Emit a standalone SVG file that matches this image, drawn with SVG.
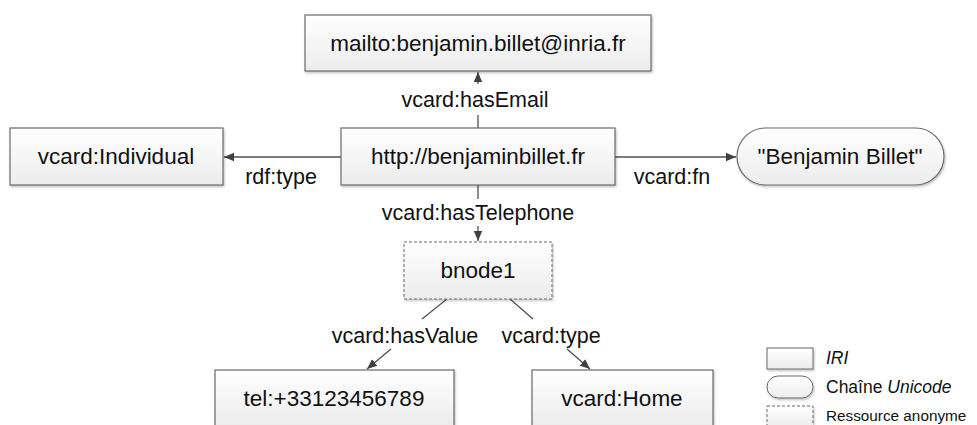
<svg xmlns="http://www.w3.org/2000/svg" width="977" height="425" viewBox="0 0 977 425">
<defs>
<linearGradient id="g" x1="0" y1="0" x2="0" y2="1">
<stop offset="0" stop-color="#ffffff"/>
<stop offset="1" stop-color="#ececec"/>
</linearGradient>
<filter id="sh" x="-5%" y="-5%" width="110%" height="120%">
<feDropShadow dx="1" dy="1.5" stdDeviation="1" flood-color="#000" flood-opacity="0.25"/>
</filter>
<marker id="ah" viewBox="0 0 10 10" refX="10" refY="5" markerWidth="10" markerHeight="10" markerUnits="userSpaceOnUse" orient="auto">
<path d="M0,0.8 L10,5 L0,9.2 Z" fill="#404040"/>
</marker>
<style>
.n{fill:url(#g);stroke:#6a6a6a;stroke-width:1.2;filter:url(#sh)}
.d{fill:url(#g);stroke:#6a6a6a;stroke-width:1;stroke-dasharray:3 2;filter:url(#sh)}
.t{font-family:"Liberation Sans",Arial,sans-serif;font-size:22.5px;fill:#111;text-anchor:middle;dominant-baseline:central}
.l{font-family:"Liberation Sans",Arial,sans-serif;font-size:21.5px;fill:#111;text-anchor:middle;dominant-baseline:central}
.lg{font-family:"Liberation Sans",Arial,sans-serif;font-size:17.5px;fill:#111;dominant-baseline:central}
.c{stroke:#505050;stroke-width:1.3;fill:none}
</style>
</defs>
<g id="connectors">
<line class="c" x1="478" y1="128" x2="478" y2="115"/>
<line class="c" x1="478" y1="84" x2="478" y2="72" marker-end="url(#ah)"/>
<text class="l" x="475" y="100">vcard:hasEmail</text>
<line class="c" x1="341" y1="157" x2="224" y2="157" marker-end="url(#ah)"/>
<text class="l" x="281" y="177">rdf:type</text>
<line class="c" x1="615" y1="157" x2="736" y2="157" marker-end="url(#ah)"/>
<text class="l" x="672" y="177">vcard:fn</text>
<line class="c" x1="478" y1="185" x2="478" y2="199"/>
<line class="c" x1="478" y1="226" x2="478" y2="241" marker-end="url(#ah)"/>
<text class="l" x="478" y="213">vcard:hasTelephone</text>
<line class="c" x1="447" y1="299" x2="422" y2="319"/>
<line class="c" x1="391" y1="349" x2="367" y2="369" marker-end="url(#ah)"/>
<text class="l" x="405" y="336">vcard:hasValue</text>
<line class="c" x1="510" y1="299" x2="533" y2="319"/>
<line class="c" x1="567" y1="349" x2="590" y2="369" marker-end="url(#ah)"/>
<text class="l" x="551" y="336">vcard:type</text>
</g>
<g id="mailto">
<rect class="n" x="305" y="15" width="346" height="56"/>
<text class="t" x="478" y="43">mailto:benjamin.billet@inria.fr</text>
</g>
<g id="subject">
<rect class="n" x="341" y="128" width="274" height="57"/>
<text class="t" x="478" y="156">http://benjaminbillet.fr</text>
</g>
<g id="individual">
<rect class="n" x="10" y="128" width="213" height="57"/>
<text class="t" x="116" y="156">vcard:Individual</text>
</g>
<g id="name">
<rect class="n" x="737" y="128" width="207" height="57" rx="28.5" ry="28.5"/>
<text class="t" x="840" y="156">"Benjamin Billet"</text>
</g>
<g id="bnode1">
<rect class="d" x="404" y="242" width="148" height="57"/>
<text class="t" x="478" y="270">bnode1</text>
</g>
<g id="tel">
<rect class="n" x="215" y="370" width="239" height="57"/>
<text class="t" x="334" y="398">tel:+33123456789</text>
</g>
<g id="home">
<rect class="n" x="532" y="370" width="181" height="57"/>
<text class="t" x="622" y="398">vcard:Home</text>
</g>
<g id="legend">
<rect class="n" x="767" y="348" width="46" height="21" style="stroke-width:1"/>
<text class="lg" x="826" y="358" font-style="italic">IRI</text>
<rect class="n" x="767" y="376" width="46" height="22" rx="11" ry="11" style="stroke-width:1"/>
<text class="lg" x="826" y="387">Chaîne <tspan font-style="italic">Unicode</tspan></text>
<rect class="d" x="767" y="406" width="46" height="22"/>
<text class="lg" x="826" y="415" style="font-size:15.3px">Ressource anonyme</text>
</g>
</svg>
